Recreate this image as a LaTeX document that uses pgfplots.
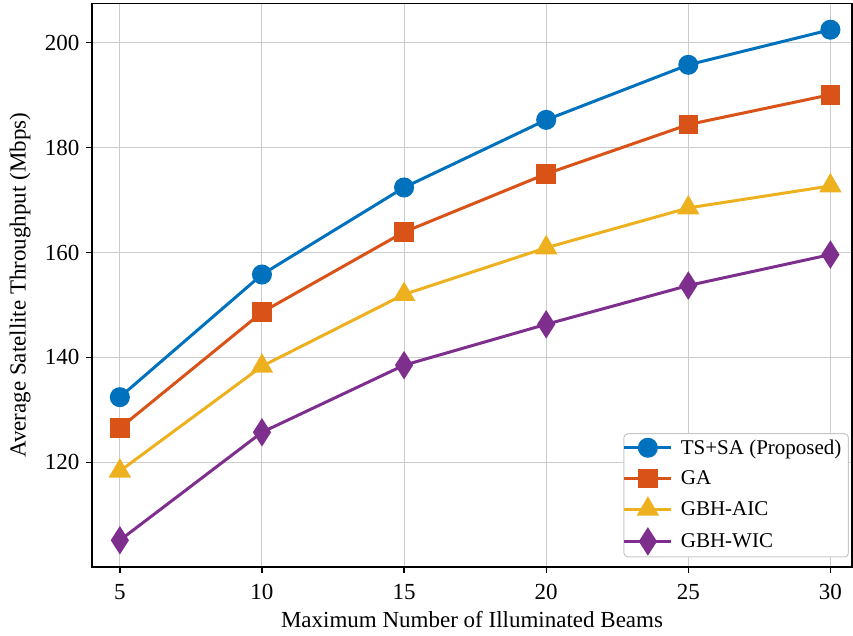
\documentclass[border=0pt]{standalone}
\usepackage{fontspec}
\setmainfont{Liberation Serif}
\usepackage{pgfplots}
\pgfplotsset{compat=1.18}
\definecolor{c1}{HTML}{0072BD}
\definecolor{c2}{HTML}{D95319}
\definecolor{c3}{HTML}{EDB120}
\definecolor{c4}{HTML}{7E2F8E}
\begin{document}
\begin{tikzpicture}
\useasboundingbox (-92pt,-68pt) rectangle (761pt,567pt);
\begin{axis}[
  width=760pt, height=563.5pt, scale only axis,
  xmin=4.02, xmax=30.76, ymin=100, ymax=207.5,
  xtick={5,10,15,20,25,30}, ytick={120,140,160,180,200},
  grid=major, grid style={line width=1pt, color=black!20},
  axis line style={line width=1.3pt},
  tick align=outside, tick pos=left, major tick length=6pt,
  tick style={line width=1.3pt, black},
  font=\fontsize{23}{27}\selectfont,
  /pgf/number format/assume math mode=true,
  xticklabel style={yshift=-8pt},
  yticklabel style={xshift=-3pt},
  xlabel={Maximum Number of Illuminated Beams},
  ylabel={Average Satellite Throughput (Mbps)},
  xlabel style={at={(axis description cs:0.5,-0.094)}, anchor=center},
  ylabel style={at={(axis description cs:-0.0947,0.5)}, anchor=center},
  legend style={at={(0.996,0.017)}, anchor=south east, draw=black!22, rounded corners=4pt, line width=1pt, fill=white, inner xsep=-1pt, inner ysep=4pt, row sep=11pt, font=\fontsize{21}{25}\selectfont, nodes={inner xsep=8pt}},
  legend cell align=left,
  legend image code/.code={\draw[mark repeat=2,mark phase=2] plot coordinates {(0pt,0pt) (23.5pt,0pt) (47pt,0pt)};},
  every axis plot/.append style={line width=3pt},
]
\addplot[c1, mark=*, mark size=8.5pt, mark options={solid, draw=none, fill=c1}] coordinates {(5,132.4) (10,155.8) (15,172.4) (20,185.3) (25,195.8) (30,202.5)};
\addlegendentry{TS+SA (Proposed)}
\addplot[c2, mark=square*, mark size=8.3pt, mark options={solid, draw=none, fill=c2}] coordinates {(5,126.5) (10,148.6) (15,163.9) (20,175.0) (25,184.4) (30,190.1)};
\addlegendentry{GA}
\addplot[c3, mark=triangle*, mark size=10pt, mark options={solid, draw=none, fill=c3}] coordinates {(5,118.3) (10,138.3) (15,152.0) (20,160.9) (25,168.5) (30,172.7)};
\addlegendentry{GBH-AIC}
\addplot[c4, mark=diamond*, mark size=11.5pt, mark options={solid, draw=none, fill=c4, xscale=0.85}] coordinates {(5,105.1) (10,125.7) (15,138.5) (20,146.3) (25,153.7) (30,159.6)};
\addlegendentry{GBH-WIC}
\end{axis}
\end{tikzpicture}
\end{document}
